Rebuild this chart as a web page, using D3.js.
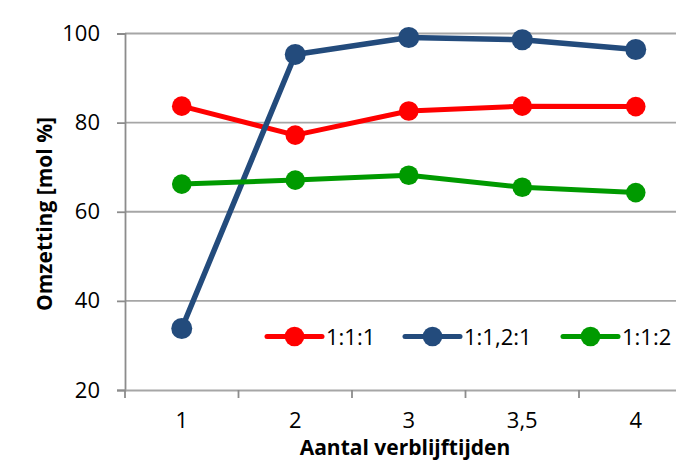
<!DOCTYPE html>
<html><head><meta charset="utf-8">
<script src="https://cdn.jsdelivr.net/npm/d3@7"></script>
<style>html,body{margin:0;padding:0;background:#fff;overflow:hidden}svg{display:block}</style>
</head><body>
<svg id="c" width="676" height="462"></svg>
<script>
const categories = ["1","2","3","3,5","4"];
const seriesNames = ["1:1:1","1:1,2:1","1:1:2"];
const s111 = [83.7, 77.2, 82.6, 83.7, 83.6];
const s1121 = [33.8, 95.3, 99.1, 98.6, 96.4];
const s112 = [66.2, 67.1, 68.2, 65.5, 64.3];
const yTicks = [20, 40, 60, 80, 100];
const colors = ["#ff0000", "#234b7c", "#009a00"];

const series = [s111, s1121, s112];
const svg = d3.select("#c");
const font = "'Open Sans', Lato, sans-serif";
const L = 125, R = 692.5, T = 33.5, B = 390;
const x = d3.scaleBand().domain(categories).range([L, R]);
const y = d3.scaleLinear().domain([20, 100]).range([B, T]);

// gridlines
svg.append("g").selectAll("line").data(yTicks.filter(t => t > 20)).join("line")
  .attr("x1", L).attr("x2", R).attr("y1", d => y(d)).attr("y2", d => y(d))
  .attr("stroke", "#a6a6a6").attr("stroke-width", 1.8);

// y axis
const ya = svg.append("g").attr("transform", `translate(${L},0)`)
  .call(d3.axisLeft(y).tickValues(yTicks).tickSize(8).tickPadding(17));
ya.select(".domain").attr("stroke", "#8c8c8c").attr("stroke-width", 1.8);
ya.selectAll(".tick line").attr("stroke", "#8c8c8c").attr("stroke-width", 1.8);
ya.selectAll("text").attr("font-family", font).attr("font-size", 22).attr("fill", "#000");

// x axis
const xa = svg.append("g").attr("transform", `translate(0,${B})`)
  .call(d3.axisBottom(x).tickSize(0).tickPadding(22));
xa.select(".domain").attr("stroke", "#a6a6a6").attr("stroke-width", 1.8);
xa.selectAll("text").attr("font-family", font).attr("font-size", 22).attr("fill", "#000");
// category separator ticks
svg.append("g").selectAll("line").data(d3.range(categories.length + 1)).join("line")
  .attr("x1", i => L + i * x.step()).attr("x2", i => L + i * x.step())
  .attr("y1", B).attr("y2", B + 8)
  .attr("stroke", "#8c8c8c").attr("stroke-width", 1.8);

// lines
const line = d3.line().x((d, i) => x(categories[i]) + x.bandwidth() / 2).y(d => y(d));
series.forEach((s, k) => {
  const g = svg.append("g");
  g.append("path").attr("d", line(s)).attr("fill", "none")
    .attr("stroke", colors[k]).attr("stroke-width", k === 1 ? 5.5 : 5).attr("stroke-linejoin", "round");
  g.selectAll("circle").data(s).join("circle")
    .attr("cx", (d, i) => x(categories[i]) + x.bandwidth() / 2).attr("cy", d => y(d))
    .attr("r", k === 1 ? 10.5 : 9.8).attr("fill", colors[k]);
});

// legend
const legX = [267, 405, 563];
const legY = 336.5;
seriesNames.forEach((n, k) => {
  const g = svg.append("g").attr("transform", `translate(${legX[k]},${legY})`);
  g.append("line").attr("x1", 0).attr("x2", 55).attr("stroke", colors[k]).attr("stroke-width", 5).attr("stroke-linecap", "round");
  g.append("circle").attr("cx", 27.5).attr("r", 9.8).attr("fill", colors[k]);
  g.append("text").attr("x", 59).attr("y", 8).attr("font-family", font).attr("font-size", 22).text(n);
});

// axis titles
svg.append("text").attr("x", 405).attr("y", 455).attr("text-anchor", "middle")
  .attr("font-family", font).attr("font-weight", "bold").attr("font-size", 21).text("Aantal verblijftijden");
svg.append("text").attr("transform", "translate(52,214) rotate(-90)").attr("text-anchor", "middle")
  .attr("font-family", font).attr("font-weight", "bold").attr("font-size", 21).text("Omzetting [mol %]");
</script>
</body></html>
